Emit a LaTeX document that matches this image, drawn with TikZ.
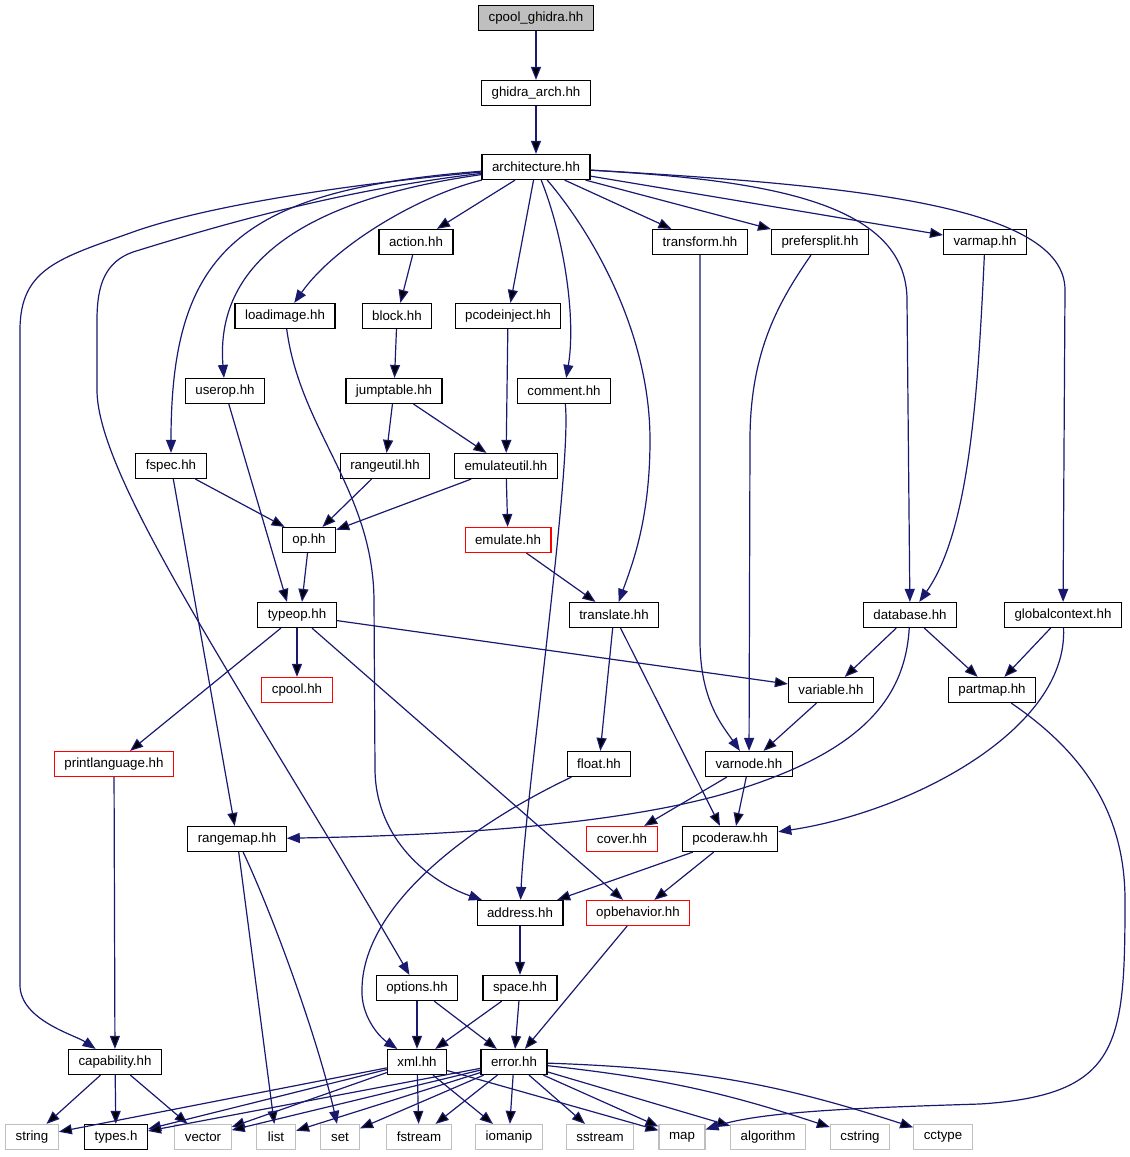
\documentclass[tikz,border=0pt]{standalone}
\usepackage{fontspec}
\newfontfamily\hdrfamily{Liberation Sans}
\usetikzlibrary{arrows.meta}
\definecolor{edgeblue}{HTML}{191970}
\definecolor{sysgray}{HTML}{BFBFBF}
\definecolor{rootfill}{HTML}{BFBFBF}
\tikzset{
  hdr/.style={draw=black, fill=white, line width=1.2pt, inner xsep=10pt, inner ysep=0pt,
    minimum height=25pt, minimum width=39pt, font=\hdrfamily\fontsize{13.3}{16}\selectfont},
  root/.style={hdr, fill=rootfill},
  missing/.style={hdr, draw=red},
  sys/.style={hdr, draw=sysgray},
  dep/.style={->, draw=edgeblue, line width=1.2pt}
}
\begin{document}
\begin{tikzpicture}[>={Triangle[length=13pt,width=10pt]}, x=1pt, y=-1pt]

            \useasboundingbox (0,0) rectangle (1130,1157);

            \node[root] (cpoolghidra) at (536,18) {cpool\_ghidra.hh};
            \node[hdr] (ghidraarch) at (536,93) {ghidra\_arch.hh};
            \node[hdr] (architecture) at (536,167) {architecture.hh};

            \node[hdr] (action) at (416,242) {action.hh};
            \node[hdr] (transform) at (700,242) {transform.hh};
            \node[hdr] (prefersplit) at (820,242) {prefersplit.hh};
            \node[hdr] (varmap) at (985,242) {varmap.hh};
            \node[hdr] (loadimage) at (285,316) {loadimage.hh};
            \node[hdr] (block) at (397,316) {block.hh};
            \node[hdr] (pcodeinject) at (508,316) {pcodeinject.hh};
            \node[hdr] (userop) at (225,391) {userop.hh};
            \node[hdr] (jumptable) at (394,391) {jumptable.hh};
            \node[hdr] (comment) at (564,391) {comment.hh};
            \node[hdr] (fspec) at (171,466) {fspec.hh};
            \node[hdr] (rangeutil) at (385,466) {rangeutil.hh};
            \node[hdr] (emulateutil) at (506,466) {emulateutil.hh};
            \node[hdr] (op) at (309,540) {op.hh};
            \node[missing] (emulate) at (508,540) {emulate.hh};
            \node[hdr] (typeop) at (297,615) {typeop.hh};
            \node[hdr] (translate) at (614,615) {translate.hh};
            \node[hdr] (database) at (910,615) {database.hh};
            \node[hdr] (globalcontext) at (1063,615) {globalcontext.hh};
            \node[missing] (cpool) at (297,690) {cpool.hh};
            \node[hdr] (variable) at (831,690) {variable.hh};
            \node[hdr] (partmap) at (992,690) {partmap.hh};
            \node[missing] (printlanguage) at (114,764) {printlanguage.hh};
            \node[hdr] (float) at (599,764) {float.hh};
            \node[hdr] (varnode) at (749,764) {varnode.hh};
            \node[hdr] (rangemap) at (237,839) {rangemap.hh};
            \node[missing] (cover) at (622,839) {cover.hh};
            \node[hdr] (pcoderaw) at (730,839) {pcoderaw.hh};
            \node[hdr] (address) at (520,913) {address.hh};
            \node[missing] (opbehavior) at (638,913) {opbehavior.hh};
            \node[hdr] (options) at (417,988) {options.hh};
            \node[hdr] (space) at (520,988) {space.hh};
            \node[hdr] (capability) at (115,1062) {capability.hh};
            \node[hdr] (xml) at (417,1062) {xml.hh};
            \node[hdr] (error) at (514,1062) {error.hh};

            \node[sys] (string) at (32,1137) {string};
            \node[hdr] (types) at (116,1137) {types.h};
            \node[sys] (vector) at (203,1137) {vector};
            \node[sys] (list) at (276,1137) {list};
            \node[sys] (set) at (340,1137) {set};
            \node[sys] (fstream) at (419,1137) {fstream};
            \node[sys] (iomanip) at (509,1137) {iomanip};
            \node[sys] (sstream) at (600,1137) {sstream};
            \node[sys] (map) at (682,1137) {map};
            \node[sys] (algorithm) at (768,1137) {algorithm};
            \node[sys] (cstring) at (860,1137) {cstring};
            \node[sys] (cctype) at (943,1137) {cctype};

            \path[dep] (cpoolghidra) edge (ghidraarch)
                       (ghidraarch) edge (architecture)
                       (architecture) edge (action)
                           edge (pcodeinject)
                           edge (transform)
                           edge (prefersplit)
                           edge (varmap)
                       (action) edge (block)
                       (block) edge (jumptable)
                       (pcodeinject) edge (emulateutil)
                       (jumptable) edge (rangeutil)
                           edge (emulateutil)
                       (userop) edge ([xshift=-10pt]typeop.north)
                       (fspec) edge (op)
                           edge (rangemap)
                       (rangeutil) edge (op)
                       (emulateutil) edge (op)
                           edge (emulate)
                       (emulate) edge (translate)
                       (op) edge ([xshift=5pt]typeop.north)
                       (typeop) edge (cpool)
                           edge (printlanguage)
                           edge (variable)
                           edge (opbehavior)
                       (translate) edge (float)
                           edge ([xshift=-10pt]pcoderaw.north)
                       (database) edge (variable)
                           edge (partmap)
                       (globalcontext) edge (partmap)
                       (variable) edge (varnode)
                       (varnode) edge (cover)
                           edge ([xshift=6pt]pcoderaw.north)
                       (printlanguage) edge (capability)
                       (rangemap) edge (list)
                       (pcoderaw) edge (address)
                           edge (opbehavior)
                       (address) edge (space)
                       (opbehavior) edge (error)
                       (options) edge (xml)
                           edge (error)
                       (space) edge (xml)
                           edge (error)
                       (capability) edge (string)
                           edge (types)
                           edge (vector)
                       (xml) edge (string)
                           edge (types)
                           edge (vector)
                           edge (fstream)
                           edge (iomanip)
                           edge (map)
                       (error) edge (types)
                           edge (vector)
                           edge (list)
                           edge (set)
                           edge (fstream)
                           edge (iomanip)
                           edge (sstream)
                           edge (map)
                           edge (algorithm)
                           edge [bend left=6] (cstring)
                           edge [bend left=8] (cctype);

            \draw[dep] (architecture) .. controls (330,186) and (200,208) .. (133,232)
                       .. controls (60,258) and (20,268) .. (20,330) -- (20,985)
                       .. controls (20,1020) and (75,1035) .. (capability);
            \draw[dep] (architecture) .. controls (340,190) and (220,225) .. (133,252)
                       .. controls (105,262) and (97,285) .. (97,320) -- (97,390)
                       .. controls (97,480) and (250,700) .. (options);
            \draw[dep] (architecture) .. controls (240,190) and (171,250) .. (fspec);
            \draw[dep] (architecture) .. controls (300,200) and (215,265) .. (userop);
            \draw[dep] (architecture) .. controls (420,195) and (335,245) .. (loadimage);
            \draw[dep] (architecture) .. controls (565,240) and (576,320) .. (comment);
            \draw[dep] (architecture) .. controls (590,230) and (650,330) .. (650,440)
                       .. controls (650,520) and (632,565) .. (translate);
            \draw[dep] (architecture) .. controls (760,180) and (907,200) .. (907,300) -- (database);
            \draw[dep] (architecture) .. controls (850,185) and (1065,205) .. (1065,290) -- (globalcontext);

            \draw[dep] (transform) -- (700,640) .. controls (700,700) and (722,725) .. (varnode);
            \draw[dep] (prefersplit) .. controls (780,300) and (750,350) .. (750,440) -- (varnode);
            \draw[dep] (varmap) .. controls (978,390) and (970,530) .. (database);
            \draw[dep] (loadimage) .. controls (300,430) and (373,490) .. (374,600) -- (375,770)
                       .. controls (376,840) and (430,882) .. (address);
            \draw[dep] (comment) .. controls (572,470) and (525,800) .. (address);
            \draw[dep] (database) .. controls (905,700) and (860,755) .. (720,795)
                       .. controls (600,828) and (420,836) .. (rangemap);
            \draw[dep] (globalcontext) .. controls (1068,730) and (910,812) .. (pcoderaw);
            \draw[dep] (partmap) .. controls (1080,750) and (1125,810) .. (1125,900)
                       .. controls (1125,1045) and (1120,1095) .. (980,1104)
                       .. controls (850,1108) and (760,1112) .. (map);
            \draw[dep] (float) .. controls (460,830) and (362,910) .. (362,990)
                       .. controls (361,1015) and (378,1036) .. (xml);
            \draw[dep] (rangemap) .. controls (275,920) and (318,1040) .. (set);

\end{tikzpicture}
\end{document}
